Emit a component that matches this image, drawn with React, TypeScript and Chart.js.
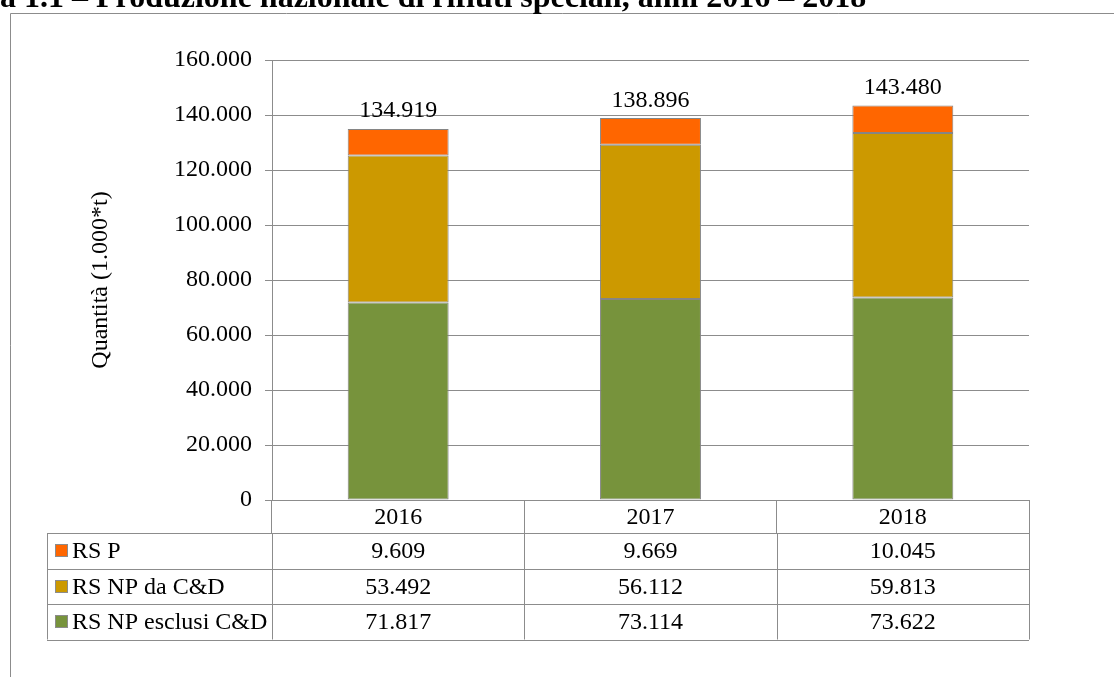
import React, { useEffect, useRef } from 'react';
import { Chart, registerables } from 'chart.js';

Chart.register(...registerables);

// ---- data ----
const TITLE = 'a 1.1 – Produzione nazionale di rifiuti speciali, anni 2016 – 2018';
const Y_TITLE = 'Quantità (1.000*t)';
const years = ['2016', '2017', '2018'];
const rsP = [9609, 9669, 10045];
const rsNpCD = [53492, 56112, 59813];
const rsNpEsclusi = [71817, 73114, 73622];
const totals = [134919, 138896, 143480];
const yMin = 0;
const yMax = 160000;
const yStep = 20000;

// ---- styles ----
const SERIF = '"Liberation Serif", "Times New Roman", serif';
const GRID = '#8c8c8c';
const C_P = '#FF6600';
const C_CD = '#CC9900';
const C_ESC = '#77933C';

const fmt = (n: number) => String(Math.round(n)).replace(/\B(?=(\d{3})+(?!\d))/g, '.');

const tableRows = [
  { name: 'RS P', values: rsP, color: C_P },
  { name: 'RS NP da C&D', values: rsNpCD, color: C_CD },
  { name: 'RS NP esclusi C&D', values: rsNpEsclusi, color: C_ESC },
];

const decorPlugin = {
  id: 'decor',
  beforeDraw(chart: any) {
    const ctx = chart.ctx;
    ctx.save();
    ctx.fillStyle = '#ffffff';
    ctx.fillRect(0, 0, chart.width, chart.height);
    // outer frame
    ctx.strokeStyle = GRID;
    ctx.lineWidth = 1;
    ctx.beginPath();
    ctx.moveTo(10.5, chart.height);
    ctx.lineTo(10.5, 13.5);
    ctx.lineTo(chart.width, 13.5);
    ctx.stroke();
    // heading (cut off at top)
    ctx.fillStyle = '#000';
    ctx.font = `bold 32px ${SERIF}`;
    ctx.textAlign = 'left';
    ctx.textBaseline = 'alphabetic';
    ctx.fillText(TITLE, 0, 7);
    ctx.restore();
  },
  afterDatasetsDraw(chart: any) {
    const ctx = chart.ctx;
    const topMeta = chart.getDatasetMeta(chart.data.datasets.length - 1);
    ctx.save();
    ctx.fillStyle = '#000';
    ctx.font = `24px ${SERIF}`;
    ctx.textAlign = 'center';
    ctx.textBaseline = 'alphabetic';
    topMeta.data.forEach((bar: any, i: number) => {
      ctx.fillText(fmt(totals[i]), bar.x, bar.y - 11.5);
    });
    ctx.restore();
  },
  afterDraw(chart: any) {
    const ctx = chart.ctx;
    const xs = chart.scales.x;
    const n = years.length;
    const colW = (xs.right - xs.left) / n;
    const tableLeft = 47;
    const rowTop = xs.top + 33;
    const rowH = 35.5;
    ctx.save();
    ctx.strokeStyle = GRID;
    ctx.lineWidth = 1;
    ctx.beginPath();
    for (let k = 0; k <= tableRows.length; k++) {
      const y = Math.round(rowTop + k * rowH) + 0.5;
      ctx.moveTo(tableLeft, y);
      ctx.lineTo(xs.right, y);
    }
    const vx = [tableLeft];
    for (let i = 0; i < n; i++) vx.push(xs.getPixelForTick(i) - colW / 2);
    vx.push(xs.right);
    vx.forEach((x) => {
      const px = Math.round(x) + 0.5;
      ctx.moveTo(px, rowTop);
      ctx.lineTo(px, rowTop + tableRows.length * rowH);
    });
    ctx.stroke();

    ctx.font = `24px ${SERIF}`;
    ctx.textBaseline = 'middle';
    tableRows.forEach((row, r) => {
      const cy = rowTop + r * rowH + rowH / 2;
      // legend key
      ctx.fillStyle = row.color;
      ctx.fillRect(55, Math.round(cy - 6.5), 13, 13);
      ctx.strokeStyle = GRID;
      ctx.strokeRect(55.5, Math.round(cy - 6.5) + 0.5, 12, 12);
      ctx.fillStyle = '#000';
      ctx.textAlign = 'left';
      ctx.fillText(row.name, 72, cy + 1);
      ctx.textAlign = 'center';
      row.values.forEach((v, i) => {
        ctx.fillText(fmt(v), xs.getPixelForTick(i), cy + 1);
      });
    });
    ctx.restore();
  },
};

export default function App() {
  const ref = useRef<HTMLCanvasElement | null>(null);
  useEffect(() => {
    if (!ref.current) return;
    const font = { family: SERIF, size: 24 };
    const common = { borderColor: '#858585', borderWidth: 1, borderSkipped: false as any };
    const chart = new Chart(ref.current, {
      type: 'bar',
      data: {
        labels: years,
        datasets: [
          { label: 'RS NP esclusi C&D', data: rsNpEsclusi, backgroundColor: C_ESC, ...common },
          { label: 'RS NP da C&D', data: rsNpCD, backgroundColor: C_CD, ...common },
          { label: 'RS P', data: rsP, backgroundColor: C_P, ...common },
        ],
      },
      options: {
        animation: false,
        responsive: false,
        layout: { padding: { top: 60, right: 85, bottom: 0, left: 0 } },
        datasets: { bar: { barPercentage: 0.4, categoryPercentage: 1 } },
        plugins: {
          legend: { display: false },
          tooltip: { enabled: false },
          title: { display: false },
        },
        scales: {
          x: {
            stacked: true,
            grid: { display: true, drawOnChartArea: false, offset: true, tickLength: 33, color: GRID, lineWidth: 1 },
            border: { display: true, color: GRID },
            ticks: { padding: -30, font, color: '#000', maxRotation: 0, autoSkip: false },
            afterFit: (s: any) => { s.height = 177; },
          },
          y: {
            stacked: true,
            min: yMin,
            max: yMax,
            ticks: { stepSize: yStep, padding: 13, font, color: '#000', callback: (v: any) => fmt(Number(v)) },
            grid: { color: GRID, tickLength: 7, lineWidth: 1 },
            border: { display: true, color: GRID },
            title: { display: true, text: Y_TITLE, font, color: '#000', padding: { top: 86, bottom: 0 } },
            afterFit: (s: any) => { s.width = 272; },
          },
        },
      },
      plugins: [decorPlugin],
    });
    return () => chart.destroy();
  }, []);
  return (
    <div style={{ position: 'fixed', left: 0, top: 0, width: 1114, height: 677, background: '#fff', overflow: 'hidden' }}>
      <canvas ref={ref} width={1114} height={677} style={{ display: 'block', width: 1114, height: 677 }} />
    </div>
  );
}
